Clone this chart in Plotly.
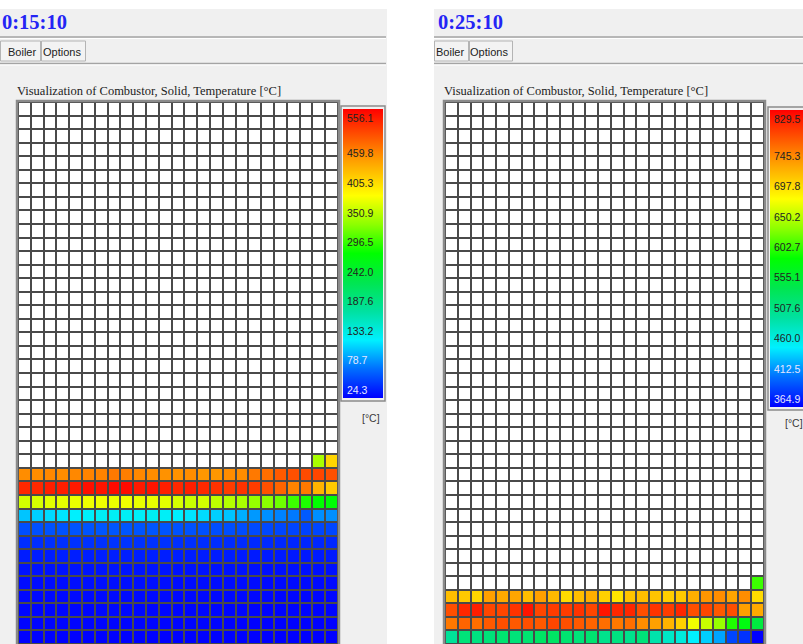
import plotly.graph_objects as go

W, H = 803, 644
N = None
ROWS, COLS = 40, 25

# ---------------- text / data ----------------
left_time = "0:15:10"
right_time = "0:25:10"
tab_labels = ["Boiler", "Options"]
chart_title = "Visualization of Combustor, Solid, Temperature [°C]"
unit_label = "[°C]"

left_tick_values = [556.1, 459.8, 405.3, 350.9, 296.5, 242.0, 187.6, 133.2, 78.7, 24.3]
right_tick_values = [829.5, 745.3, 697.8, 650.2, 602.7, 555.1, 507.6, 460.0, 412.5, 364.9]

# left panel (0:15:10) – filled rows, counted from the top (rows above are empty)
left_row_26 = [N, N, N, N, N, N, N, N, N, N, N, N, N, N, N, N, N, N, N, N, N, N, N, 357, 425]
left_row_27 = [472, 472, 475, 472, 475, 478, 478, 484, 481, 475, 472, 469, 469, 472, 466, 466, 472, 472, 484, 490, 502, 508, 511, 514, 508]
left_row_28 = [532, 532, 538, 538, 541, 547, 544, 550, 550, 541, 544, 538, 532, 538, 532, 526, 520, 526, 520, 508, 496, 478, 484, 447, 433]
left_row_29 = [376, 378, 383, 385, 387, 390, 390, 387, 390, 387, 387, 383, 378, 371, 376, 366, 362, 357, 348, 343, 332, 313, 301, 290, 287]
left_row_30 = [113, 117, 122, 126, 131, 133, 135, 137, 137, 135, 137, 135, 131, 126, 122, 117, 113, 104, 95, 91, 86, 82, 68, 91, 91]
left_row_31 = [62, 63, 64, 64, 65, 65, 66, 66, 66, 65, 66, 65, 64, 64, 63, 62, 62, 61, 60, 59, 58, 57, 56, 58, 58]
left_row_32 = [46, 46, 47, 47, 48, 48, 48, 49, 49, 48, 48, 48, 47, 47, 46, 46, 45, 45, 44, 44, 43, 42, 42, 43, 43]
left_row_33 = [38, 38, 38, 39, 39, 39, 39, 39, 39, 39, 39, 39, 39, 38, 38, 38, 38, 37, 37, 37, 37, 36, 36, 37, 37]
left_row_34 = [33, 33, 33, 33, 34, 34, 34, 34, 34, 34, 34, 34, 33, 33, 33, 33, 33, 33, 32, 32, 32, 32, 32, 32, 32]
left_row_35 = [30, 30, 30, 30, 31, 31, 31, 31, 31, 31, 31, 31, 30, 30, 30, 30, 30, 30, 30, 29, 29, 29, 29, 29, 29]
left_row_36 = [28, 28, 28, 28, 29, 29, 29, 29, 29, 29, 29, 29, 28, 28, 28, 28, 28, 28, 28, 28, 27, 27, 27, 27, 27]
left_row_37 = [27, 27, 27, 27, 27, 27, 28, 28, 28, 28, 27, 27, 27, 27, 27, 27, 27, 27, 26, 26, 26, 26, 26, 26, 26]
left_row_38 = [26, 26, 26, 26, 26, 26, 26, 26, 26, 26, 26, 26, 26, 26, 26, 26, 25, 25, 25, 25, 25, 25, 25, 25, 25]
left_row_39 = [25, 25, 25, 25, 25, 25, 25, 25, 25, 25, 25, 25, 25, 25, 25, 25, 25, 25, 25, 24.5, 24.5, 24.5, 24.5, 24.5, 24.5]

# right panel (0:25:10)
right_row_35 = [N, N, N, N, N, N, N, N, N, N, N, N, N, N, N, N, N, N, N, N, N, N, N, N, 617]
right_row_36 = [728, 722, 714, 746, 740, 743, 728, 746, 731, 711, 728, 737, 717, 705, 725, 728, 725, 719, 722, 737, 751, 756, 743, 756, 711]
right_row_37 = [788, 809, 814, 793, 793, 803, 819, 793, 798, 798, 803, 793, 819, 809, 809, 788, 803, 798, 809, 788, 793, 783, 788, 746, 740]
right_row_38 = [767, 777, 772, 783, 788, 783, 788, 783, 793, 788, 783, 777, 772, 767, 772, 756, 746, 734, 717, 684, 668, 648, 607, 588, 560]
right_row_39 = [509, 527, 523, 527, 532, 527, 532, 539, 539, 532, 527, 532, 516, 523, 516, 527, 499, 485, 475, 458, 446, 431, 394, 386, 365]

left_filled = {26: left_row_26, 27: left_row_27, 28: left_row_28, 29: left_row_29,
               30: left_row_30, 31: left_row_31, 32: left_row_32, 33: left_row_33,
               34: left_row_34, 35: left_row_35, 36: left_row_36, 37: left_row_37,
               38: left_row_38, 39: left_row_39}
right_filled = {35: right_row_35, 36: right_row_36, 37: right_row_37,
                38: right_row_38, 39: right_row_39}

jet = [
    [0.0, "rgb(0,0,255)"],
    [0.1, "rgb(0,110,255)"],
    [0.2, "rgb(0,240,255)"],
    [0.3, "rgb(0,225,160)"],
    [0.4, "rgb(0,230,80)"],
    [0.5, "rgb(0,255,0)"],
    [0.6, "rgb(140,255,0)"],
    [0.7, "rgb(255,255,0)"],
    [0.82, "rgb(255,160,0)"],
    [1.0, "rgb(255,0,0)"],
]


def build_z(filled):
    return [filled.get(r, [N] * COLS) for r in range(ROWS)]


def px(x):
    return x / W


def py(y):
    return 1 - y / H


panels = [
    dict(time=left_time, ticks=left_tick_values, filled=left_filled,
         panel=(0, 387), grid=(18, 338, 102, 644), bar=(343, 383, 109, 398),
         label_x=345, unit=(360, 418), time_x=0, tabs=[(0, 41), (41, 86)],
         title_x=15, ax="", sep=(0, 386)),
    dict(time=right_time, ticks=right_tick_values, filled=right_filled,
         panel=(434, 803), grid=(445, 764, 102, 644), bar=(770, 810, 110, 407),
         label_x=772, unit=(783, 423), time_x=436, tabs=[(434, 469), (469, 513)],
         title_x=442, ax="2", sep=(434, 803)),
]

fig = go.Figure()
shapes = []
annotations = []

for p in panels:
    x0, x1 = p["panel"]
    shapes.append(dict(type="rect", xref="paper", yref="paper", x0=px(x0), x1=px(x1),
                       y0=py(644), y1=py(9), fillcolor="#f0f0f0", line_width=0, layer="below"))
    s0, s1 = p["sep"]
    for yy in (37, 63.5):
        shapes.append(dict(type="line", xref="paper", yref="paper", x0=px(s0), x1=px(s1),
                           y0=py(yy), y1=py(yy), line=dict(color="#a4a4a4", width=1.5), layer="below"))
        shapes.append(dict(type="line", xref="paper", yref="paper", x0=px(s0), x1=px(s1),
                           y0=py(yy + 1.5), y1=py(yy + 1.5), line=dict(color="#ffffff", width=1), layer="below"))
    for (t0, t1), lab in zip(p["tabs"], tab_labels):
        shapes.append(dict(type="rect", xref="paper", yref="paper", x0=px(t0 + 0.5), x1=px(t1 - 0.5),
                           y0=py(61), y1=py(41), fillcolor="#f3f3f3",
                           line=dict(color="#b4b4b4", width=1), layer="below"))
        annotations.append(dict(x=px(t1 - 3), y=py(51.5), xref="paper", yref="paper",
                                xanchor="right", yanchor="middle", showarrow=False, text=lab,
                                font=dict(family="Liberation Sans", size=11, color="#222222")))
    annotations.append(dict(x=px(p["time_x"]), y=py(21.5), xref="paper", yref="paper",
                            xanchor="left", yanchor="middle", showarrow=False,
                            text="<b>" + p["time"] + "</b>",
                            font=dict(family="Liberation Serif", size=20.5, color="#2424f5")))
    annotations.append(dict(x=px(p["title_x"]), y=py(91.5), xref="paper", yref="paper",
                            xanchor="left", yanchor="middle", showarrow=False, text=chart_title,
                            font=dict(family="Liberation Serif", size=12.5, color="#1c1c1c")))

    gx0, gx1, gy0, gy1 = p["grid"]
    bx0, bx1, by0, by1 = p["bar"]
    vmax, vmin = max(p["ticks"]), min(p["ticks"])
    xa, ya = "x" + p["ax"], "y" + p["ax"]

    # dark grid-line background inside the subplot
    shapes.append(dict(type="rect", xref=xa + " domain", yref=ya + " domain", x0=0, x1=1, y0=0, y1=1,
                       fillcolor="#4a4a4a", line_width=0, layer="below"))

    fig.add_trace(go.Heatmap(z=[[0] * COLS for _ in range(ROWS)],
                             colorscale=[[0, "white"], [1, "white"]], showscale=False,
                             xgap=2, ygap=2, hoverinfo="skip", xaxis=xa, yaxis=ya))
    fig.add_trace(go.Heatmap(
        z=build_z(p["filled"]), colorscale=jet, zmin=vmin, zmax=vmax,
        xgap=2, ygap=2, hoverinfo="skip", xaxis=xa, yaxis=ya,
        colorbar=dict(x=px(bx0), xanchor="left", xref="paper", y=py(by0), yanchor="top", yref="paper",
                      len=by1 - by0, lenmode="pixels", thickness=bx1 - bx0, thicknessmode="pixels",
                      xpad=0, ypad=0, outlinewidth=0, borderwidth=0,
                      showticklabels=False, ticks=""),
    ))

    shapes.append(dict(type="rect", xref="paper", yref="paper", x0=px(gx0 - 1), x1=px(gx1 + 1),
                       y0=py(gy1 + 5), y1=py(gy0 - 1), line=dict(color="#8a8a8a", width=2.5),
                       fillcolor="rgba(0,0,0,0)", layer="above"))
    shapes.append(dict(type="rect", xref="paper", yref="paper", x0=px(bx0 - 2), x1=px(bx1 + 2),
                       y0=py(by1 + 3), y1=py(by0 - 3), line=dict(color="#8a8a8a", width=1.5),
                       fillcolor="rgba(0,0,0,0)", layer="above"))

    for v in p["ticks"]:
        ty = by0 + (vmax - v) / (vmax - vmin) * (by1 - by0)
        frac = (v - vmin) / (vmax - vmin)
        col = "#e6e6ff" if frac < 0.15 else "#222222"
        if v == vmax:
            annotations.append(dict(x=px(p["label_x"]), y=py(by0 + 1), xref="paper", yref="paper",
                                    xanchor="left", yanchor="top", showarrow=False, text=f"{v:.1f}",
                                    font=dict(family="Liberation Sans", size=10.5, color=col)))
        else:
            annotations.append(dict(x=px(p["label_x"]), y=py(ty), xref="paper", yref="paper",
                                    xanchor="left", yanchor="bottom", showarrow=False, text=f"{v:.1f}",
                                    font=dict(family="Liberation Sans", size=10.5, color=col)))
    ux, uy = p["unit"]
    annotations.append(dict(x=px(ux), y=py(uy), xref="paper", yref="paper",
                            xanchor="left", yanchor="middle", showarrow=False, text=unit_label,
                            font=dict(family="Liberation Sans", size=10.5, color="#3a3a3a")))

axis_common = dict(showgrid=False, zeroline=False, showticklabels=False, ticks="",
                   fixedrange=True, showline=False)
L, R = panels
fig.update_layout(
    width=W, height=H,
    margin=dict(l=0, r=0, t=0, b=0, pad=0, autoexpand=False),
    paper_bgcolor="#ffffff", plot_bgcolor="#4a4a4a",
    showlegend=False,
    xaxis=dict(domain=[px(L["grid"][0]), px(L["grid"][1])], range=[-0.5, COLS - 0.5], anchor="y", **axis_common),
    yaxis=dict(domain=[py(L["grid"][3]), py(L["grid"][2])], range=[ROWS - 0.5, -0.5], anchor="x", **axis_common),
    xaxis2=dict(domain=[px(R["grid"][0]), px(R["grid"][1])], range=[-0.5, COLS - 0.5], anchor="y2", **axis_common),
    yaxis2=dict(domain=[py(R["grid"][3]), py(R["grid"][2])], range=[ROWS - 0.5, -0.5], anchor="x2", **axis_common),
    shapes=shapes,
    annotations=annotations,
)

fig.write_html("out.html",
               config={"displayModeBar": False, "displaylogo": False},
               post_script="document.body.style.margin='0px';document.body.style.overflow='hidden';")
